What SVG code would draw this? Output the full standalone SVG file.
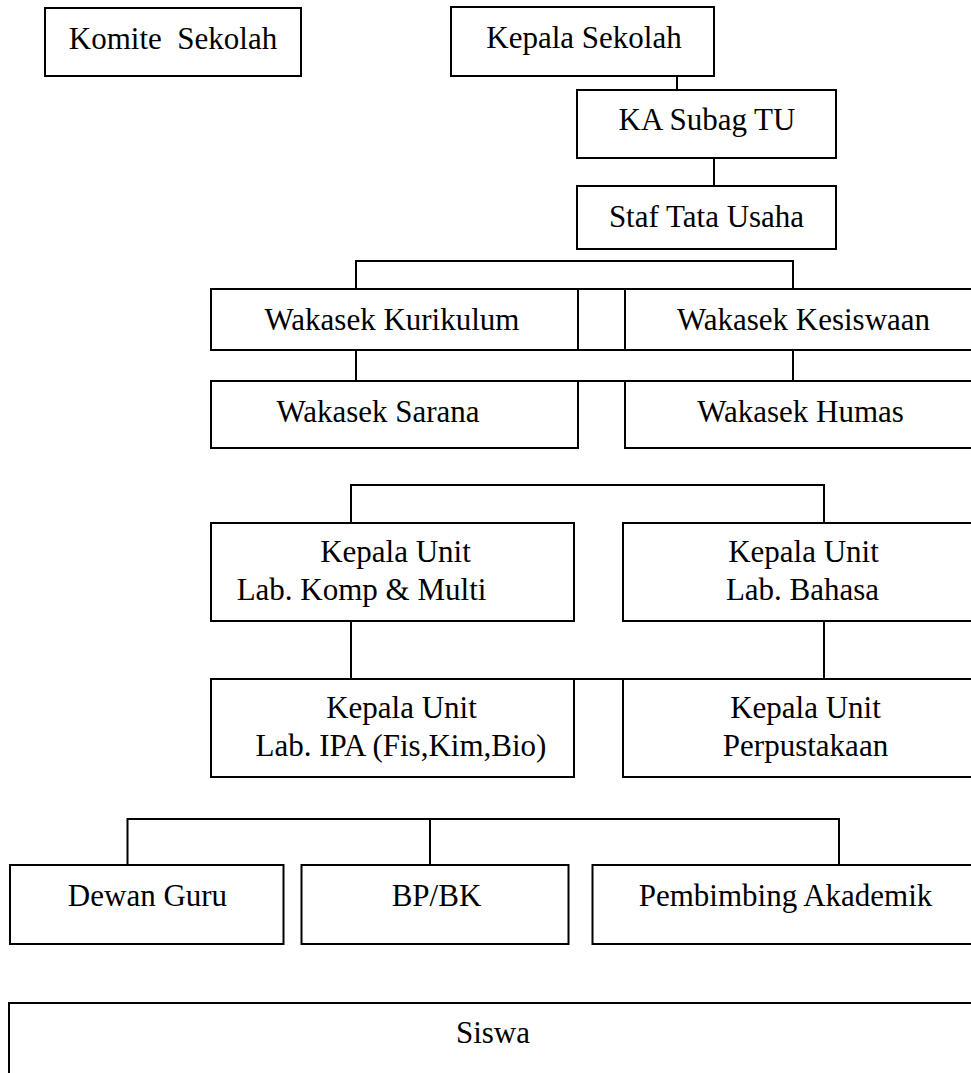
<svg xmlns="http://www.w3.org/2000/svg" width="971" height="1073" viewBox="0 0 971 1073">
<style>
rect{fill:#fff;stroke:#000;stroke-width:2}
.c line,.c polyline{fill:none;stroke:#000;stroke-width:2}
text{font-family:"Liberation Serif","Times New Roman",serif;font-size:31px;fill:#000;text-anchor:middle}
</style>
<rect x="0" y="0" width="971" height="1073" style="stroke:none"/>
<g class="c" id="connectors">
<line x1="677" y1="76" x2="677" y2="90"/>
<line x1="714" y1="158" x2="714" y2="186"/>
<polyline points="356,289 356,261 793,261 793,289"/>
<line x1="356" y1="350" x2="356" y2="381"/>
<line x1="793" y1="350" x2="793" y2="381"/>
<line x1="578" y1="289" x2="625" y2="289"/>
<line x1="578" y1="350" x2="625" y2="350"/>
<line x1="578" y1="381" x2="625" y2="381"/>
<polyline points="351,523 351,485 824,485 824,523"/>
<line x1="351" y1="621" x2="351" y2="679"/>
<line x1="824" y1="621" x2="824" y2="679"/>
<line x1="574" y1="679" x2="623" y2="679"/>
<polyline points="127.5,865 127.5,819 839,819 839,865"/>
<line x1="430" y1="819" x2="430" y2="865"/>
</g>
<g id="komite"><rect x="45" y="8" width="256" height="68"/><text x="173" y="49" xml:space="preserve">Komite  Sekolah</text></g>
<g id="kepala"><rect x="451" y="7" width="263" height="69"/><text x="584" y="48">Kepala Sekolah</text></g>
<g id="kasubag"><rect x="577" y="90" width="259" height="68"/><text x="707" y="130">KA Subag TU</text></g>
<g id="staf"><rect x="577" y="186" width="259" height="63"/><text x="706.5" y="227">Staf Tata Usaha</text></g>
<g id="kurikulum"><rect x="211" y="289" width="367" height="61"/><text x="392" y="330">Wakasek Kurikulum</text></g>
<g id="kesiswaan"><rect x="625" y="289" width="348" height="61"/><text x="803.5" y="330">Wakasek Kesiswaan</text></g>
<g id="sarana"><rect x="211" y="381" width="367" height="67"/><text x="378" y="421.5">Wakasek Sarana</text></g>
<g id="humas"><rect x="625" y="381" width="348" height="67"/><text x="800.5" y="421.5">Wakasek Humas</text></g>
<g id="labkomp"><rect x="211" y="523" width="363" height="98"/><text x="395.5" y="561.5">Kepala Unit</text><text x="361.5" y="600">Lab. Komp &amp; Multi</text></g>
<g id="labbahasa"><rect x="623" y="523" width="350" height="98"/><text x="803.5" y="561.5">Kepala Unit</text><text x="802.5" y="600">Lab. Bahasa</text></g>
<g id="labipa"><rect x="211" y="679" width="363" height="98"/><text x="401.5" y="717.5">Kepala Unit</text><text x="401" y="756">Lab. IPA (Fis,Kim,Bio)</text></g>
<g id="perpus"><rect x="623" y="679" width="350" height="98"/><text x="805.5" y="717.5">Kepala Unit</text><text x="805.5" y="756">Perpustakaan</text></g>
<g id="dewanguru"><rect x="10" y="865" width="273.5" height="79"/><text x="147.5" y="905.5">Dewan Guru</text></g>
<g id="bpbk"><rect x="301.5" y="865" width="267" height="79"/><text x="436.5" y="905.5">BP/BK</text></g>
<g id="pembimbing"><rect x="592.5" y="865" width="380.5" height="79"/><text x="785.5" y="905.5">Pembimbing Akademik</text></g>
<g id="siswa"><rect x="9" y="1003" width="964" height="75"/><text x="493" y="1043">Siswa</text></g>
</svg>
